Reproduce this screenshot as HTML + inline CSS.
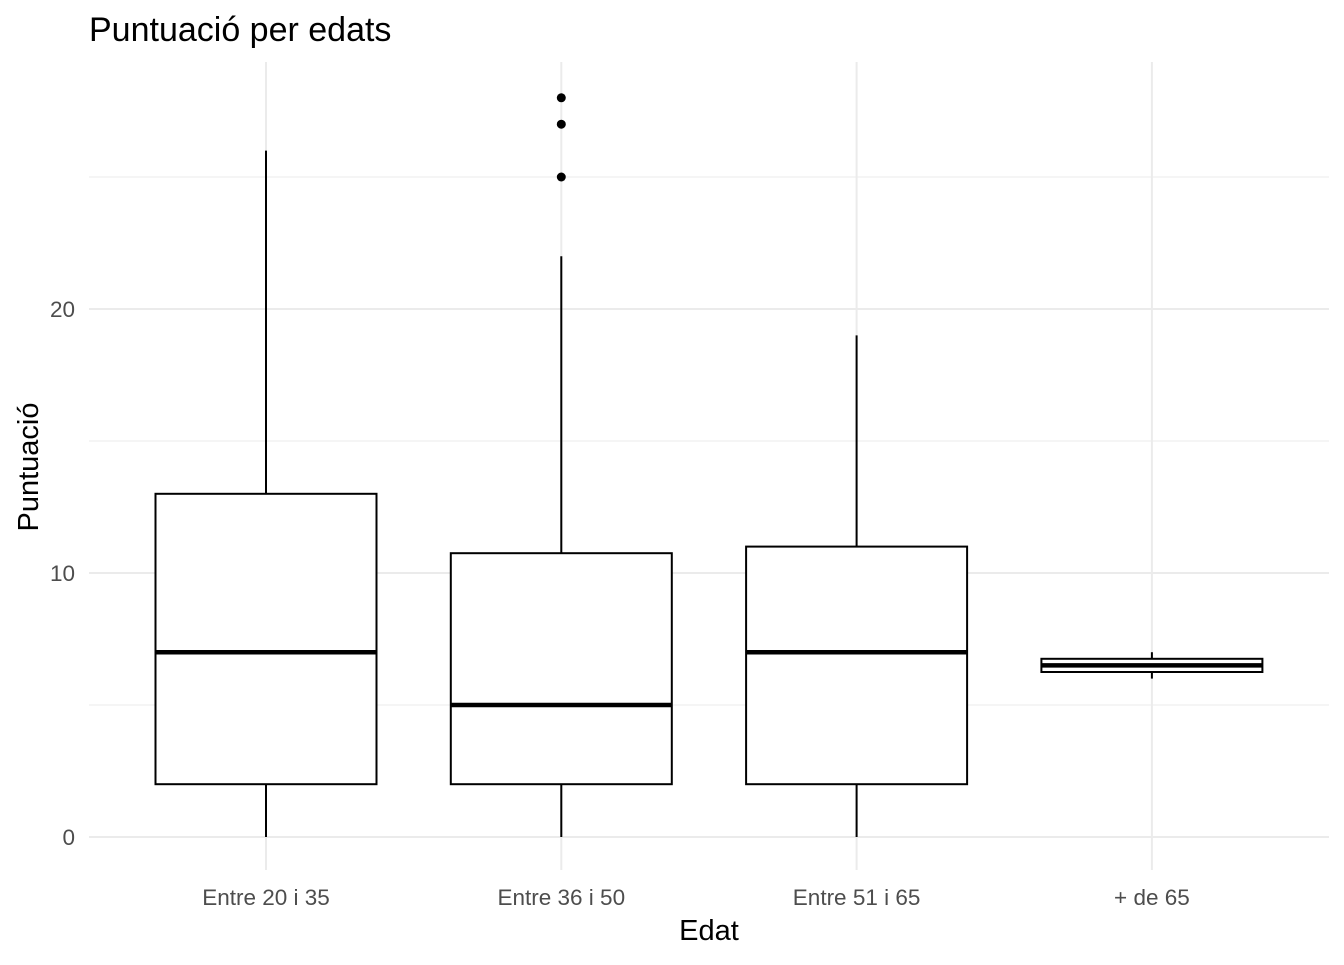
<!DOCTYPE html>
<html><head><meta charset="utf-8"><style>
body{margin:0;background:#fff;font-family:"Liberation Sans",sans-serif}
</style></head><body>
<svg id="c" width="1344" height="960" xmlns="http://www.w3.org/2000/svg">
<text x="89" y="41" font-size="34" fill="#000">Puntuació per edats</text>
<text x="709" y="940" font-size="29" text-anchor="middle" fill="#000">Edat</text>
<text transform="translate(38,467) rotate(-90)" font-size="29" text-anchor="middle" fill="#000">Puntuació</text>
<g id="grid"></g><g id="marks"></g><g id="labels"></g>
</svg>
<script>
const categories=["Entre 20 i 35","Entre 36 i 50","Entre 51 i 65","+ de 65"];
const whiskerLow=[0,0,0,6];
const q1=[2,2,2,6.25];
const medians=[7,5,7,6.5];
const q3=[13,10.75,11,6.75];
const whiskerHigh=[26,22,19,7];
const outliers=[[],[28,27,25],[],[]];
const yTicks=[0,10,20];
const yMinor=[5,15,25];
const NS="http://www.w3.org/2000/svg";
const y=v=>837-v*26.4;
const x=i=>266+i*295.3;
const bw=221;
function mk(parent,tag,attrs){const e=document.createElementNS(NS,tag);for(const k in attrs)e.setAttribute(k,attrs[k]);document.getElementById(parent).appendChild(e);return e;}
yMinor.forEach(v=>{const l=mk('grid','line',{x1:89,x2:1329,y1:y(v),y2:y(v),stroke:'#ebebeb','stroke-width':1});

});
yTicks.forEach(v=>{const l=mk('grid','line',{x1:89,x2:1329,y1:y(v),y2:y(v),stroke:'#ebebeb','stroke-width':2});


const t=mk('labels','text',{x:75,y:y(v)+8,'font-size':22.5,'text-anchor':'end',fill:'#4d4d4d'});t.textContent=v;

});
categories.forEach((c,i)=>{
const g=mk('grid','line',{x1:x(i),x2:x(i),y1:62,y2:870,stroke:'#ebebeb','stroke-width':2});


const w1=mk('marks','line',{x1:x(i),x2:x(i),y1:y(whiskerHigh[i]),y2:y(q3[i]),stroke:'#000','stroke-width':2});


const w2=mk('marks','line',{x1:x(i),x2:x(i),y1:y(q1[i]),y2:y(whiskerLow[i]),stroke:'#000','stroke-width':2});


const b=mk('marks','rect',{x:x(i)-bw/2,y:y(q3[i]),width:bw,height:y(q1[i])-y(q3[i]),fill:'#fff',stroke:'#000','stroke-width':2});


const m=mk('marks','line',{x1:x(i)-bw/2,x2:x(i)+bw/2,y1:y(medians[i]),y2:y(medians[i]),stroke:'#000','stroke-width':4.5});


outliers[i].forEach(o=>{const p=mk('marks','circle',{cx:x(i),cy:y(o),r:4.5,fill:'#000'});

});
const t=mk('labels','text',{x:x(i),y:905,'font-size':22.5,'text-anchor':'middle',fill:'#4d4d4d'});t.textContent=c;


});
</script>
</body></html>
